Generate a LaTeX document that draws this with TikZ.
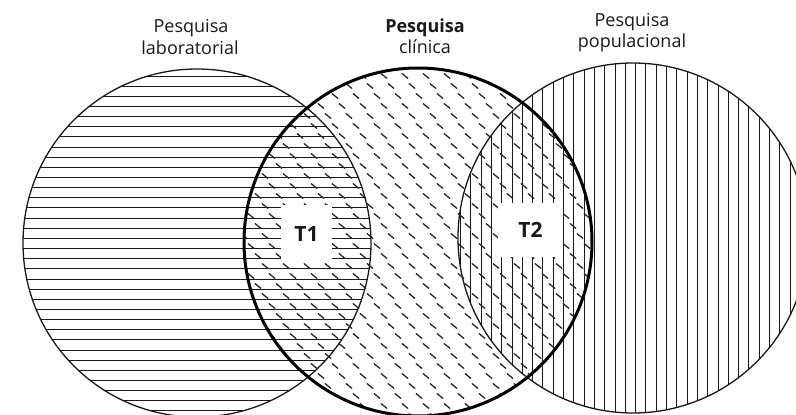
\documentclass[tikz,border=0pt]{standalone}
\usepackage{fontspec}
\setmainfont{Open Sans}
\begin{document}
\begin{tikzpicture}[x=1pt,y=-1pt,
  hatch/.style={line width=1pt, black!90},
  dashmark/.style={line width=1.3pt, black!85, line cap=round},
  ring/.style={line width=1.3pt, black!90},
  thickring/.style={line width=3pt, black},
  lab/.style={font=\fontsize{18}{21}\selectfont, text=black!90, anchor=base, inner sep=0pt},
  tbox/.style={fill=white, inner sep=0pt, font=\bfseries\fontsize{21}{24}\selectfont, text=black!90}]
\useasboundingbox (0,0) rectangle (796,415);
\clip (0,0) rectangle (796,415);
\coordinate (cL) at (197,243);
\coordinate (cM) at (418,242);
\coordinate (cR) at (633,238);
% left circle: horizontal hatching
\begin{scope}
  \clip (cL) circle (174pt);
  \foreach \k in {0,...,34} {
    \pgfmathsetmacro\yy{76+10.15*\k}
    \draw[hatch] (15,\yy) -- (380,\yy);
  }
\end{scope}
% right circle: vertical hatching
\begin{scope}
  \clip (cR) circle (175pt);
  \foreach \k in {0,...,34} {
    \pgfmathsetmacro\xx{460.5+10.3*\k}
    \draw[hatch] (\xx,55) -- (\xx,420);
  }
\end{scope}
% middle circle: short diagonal dashes
\begin{scope}
  \clip (cM) circle (174pt);
  \foreach \j in {0,...,36} {
    \foreach \i in {-14,...,18} {
      \pgfmathsetmacro\xx{230+21*\i+7*\j}
      \pgfmathsetmacro\yy{66+10*\j}
      \draw[dashmark] (\xx,\yy) ++(-2.8,-2.3) -- ++(5.6,4.6);
    }
  }
\end{scope}
% outlines
\draw[ring] (cL) circle (174pt);
\draw[ring] (cR) circle (175pt);
\draw[thickring] (cM) circle (174pt);
% T boxes
\node[tbox, minimum width=51pt, minimum height=58pt] (t1) at (306.5,234) {T1};
\node[tbox, minimum width=65pt, minimum height=54pt] (t2) at (530.5,230) {T2};
% labels
\node[lab] (la1) at (191,32) {Pesquisa};
\node[lab] (la2) at (190,54) {laboratorial};
\node[lab, font=\bfseries\fontsize{18}{21}\selectfont] (lb1) at (425,32) {Pesquisa};
\node[lab] (lb2) at (425,53) {clínica};
\node[lab] (lc1) at (632,27) {Pesquisa};
\node[lab] (lc2) at (632,47) {populacional};
\end{tikzpicture}
\end{document}
